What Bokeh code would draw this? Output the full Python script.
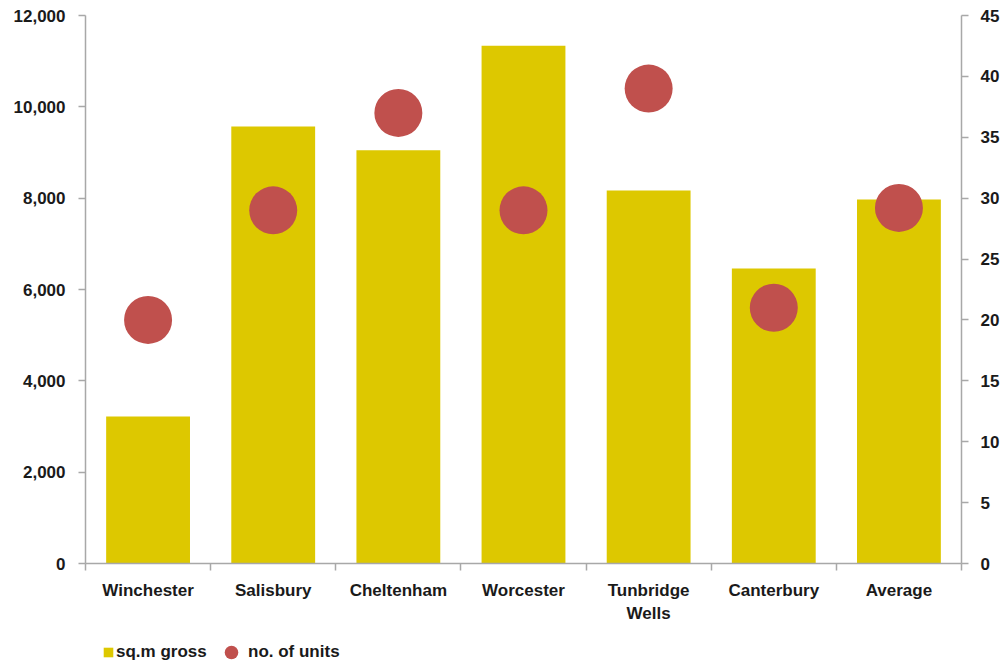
from bokeh.plotting import figure
from bokeh.layouts import column
from bokeh.models import (Range1d, LinearAxis, FixedTicker, NumeralTickFormatter,
                          Legend, LegendItem, ColumnDataSource)
from bokeh.embed import file_html
from bokeh.resources import INLINE

categories = ["Winchester", "Salisbury", "Cheltenham", "Worcester",
              "Tunbridge\nWells", "Canterbury", "Average"]
sqm_gross = [3220, 9570, 9050, 11340, 8170, 6460, 7970]
no_of_units = [20, 29, 37, 29, 39, 21, 29.2]
left_ticks = [0, 2000, 4000, 6000, 8000, 10000, 12000]
right_ticks = [0, 5, 10, 15, 20, 25, 30, 35, 40, 45]
series_names = ["sq.m gross", "no. of units"]

BAR = "#DDC800"
DOT = "#C0504D"
GREY = "#A8A8A8"
FONT = "Liberation Sans"
TXT = "#1A1A1A"

xs = [i + 0.5 for i in range(len(categories))]
src = ColumnDataSource(dict(x=xs, sqm=sqm_gross, units=no_of_units))

p = figure(width=1008, height=632, x_range=Range1d(0, len(categories)),
           y_range=Range1d(0, 12000), output_backend="svg", toolbar_location=None,
           min_border_left=85, min_border_right=47, min_border_top=15,
           min_border_bottom=69, x_axis_type=None, y_axis_type=None)
p.outline_line_color = None
p.extra_y_ranges = {"units": Range1d(0, 45)}

bars = p.vbar(x="x", top="sqm", width=0.67, source=src, fill_color=BAR, line_color=None)
dots = p.scatter(x="x", y="units", size=48, source=src, y_range_name="units",
                 fill_color=DOT, line_color=None)

def style(ax, size="17px"):
    ax.axis_line_color = GREY
    ax.axis_line_width = 1.5
    ax.major_tick_line_color = GREY
    ax.major_tick_line_width = 1.5
    ax.major_label_text_font = FONT
    ax.major_label_text_font_style = "bold"
    ax.major_label_text_font_size = size
    ax.major_label_text_color = TXT

# x axis
xax = LinearAxis(ticker=FixedTicker(ticks=xs, minor_ticks=list(range(len(categories) + 1))))
style(xax)
xax.major_tick_line_color = None
xax.major_tick_out = 0
xax.major_tick_in = 0
xax.minor_tick_line_color = GREY
xax.minor_tick_line_width = 1.5
xax.minor_tick_out = 7
xax.minor_tick_in = 0
xax.major_label_standoff = 10
xax.major_label_text_line_height = 1.25
xax.major_label_overrides = {x: c for x, c in zip(xs, categories)}
p.add_layout(xax, "below")

# left axis
yax = LinearAxis(ticker=FixedTicker(ticks=left_ticks, minor_ticks=[]),
                 formatter=NumeralTickFormatter(format="0,0"))
style(yax)
yax.major_tick_out = 7
yax.major_tick_in = 0
yax.minor_tick_line_color = None
yax.major_label_standoff = 13
p.add_layout(yax, "left")

# right axis
rax = LinearAxis(y_range_name="units", ticker=FixedTicker(ticks=right_ticks, minor_ticks=[]))
style(rax)
rax.major_tick_out = 7
rax.major_tick_in = 0
rax.minor_tick_line_color = None
rax.major_label_standoff = 12
p.add_layout(rax, "right")

p.ygrid.ticker = FixedTicker(ticks=left_ticks)
p.ygrid.grid_line_color = GREY
p.ygrid.grid_line_width = 1.5
p.xgrid.grid_line_color = None

# legend strip
lg = figure(width=1008, height=34, x_range=Range1d(0, 1), y_range=Range1d(0, 1),
            output_backend="svg", toolbar_location=None, x_axis_type=None,
            y_axis_type=None, min_border=0, outline_line_color=None)
lg.xgrid.grid_line_color = None
lg.ygrid.grid_line_color = None
lsq = lg.vbar(x=[float("nan")], top=[float("nan")], width=0.1,
              fill_color=BAR, line_color=None)
lci = lg.scatter(x=[float("nan")], y=[float("nan")], marker="circle", size=15,
                 fill_color=DOT, line_color=None)

common = dict(orientation="horizontal", label_text_font=FONT,
              label_text_font_style="bold", label_text_font_size="17px",
              label_text_color=TXT, border_line_color=None,
              background_fill_alpha=0, padding=0, margin=0)
leg1 = Legend(items=[LegendItem(label=series_names[0], renderers=[lsq])],
              location=(17, 4), glyph_width=12, glyph_height=12,
              label_standoff=2, **common)
leg2 = Legend(items=[LegendItem(label=series_names[1], renderers=[lci])],
              location=(129, -3), glyph_width=34, glyph_height=34,
              label_standoff=0, **common)
lg.add_layout(leg1, "center")
lg.add_layout(leg2, "center")

layout = column(p, lg, spacing=0)
open("out.html", "w").write(file_html(layout, INLINE))
